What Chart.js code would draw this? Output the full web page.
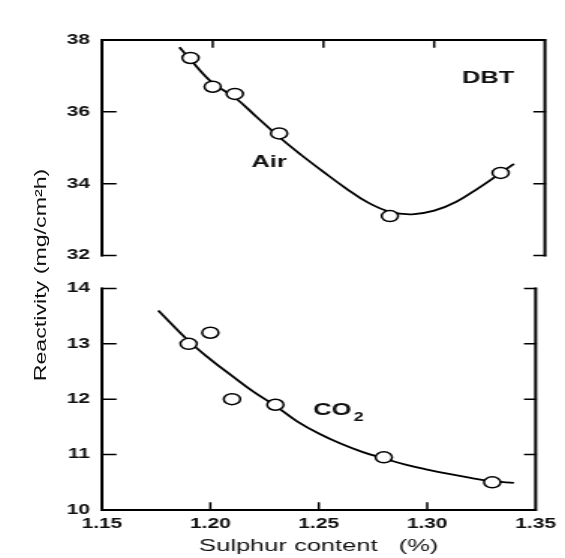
<!DOCTYPE html>
<html>
<head>
<meta charset="utf-8">
<script src="https://cdn.jsdelivr.net/npm/chart.js@4/dist/chart.umd.min.js"></script>
<style>
  html, body { margin: 0; padding: 0; background: #fff; }
  #page { position: relative; width: 565px; height: 558px; overflow: hidden; background: #fff; }
  .panel { position: absolute; left: 0; transform-origin: 0 0; transform: scaleX(1.4987); }
  #ytitle {
    position: absolute; width: 160px; left: -39px; top: 264px;
    text-align: center; font: 16px "Liberation Sans", Arial, sans-serif; color: #111;
    line-height: 22px; white-space: pre;
    transform: rotate(-90deg) scaleX(1.45); transform-origin: 50% 50%;
  }
</style>
</head>
<body>
<div id="page">
  <div class="panel" style="top:0"><canvas id="airChart" width="377" height="272"></canvas></div>
  <div class="panel" style="top:272px"><canvas id="co2Chart" width="377" height="286"></canvas></div>
  <div id="ytitle">Reactivity (mg/cm²h)</div>
</div>
<script>
// measured points, DBT in air
var sulphurAir = [1.19, 1.20, 1.21, 1.23, 1.28, 1.33];
var reactAir   = [37.5, 36.7, 36.5, 35.4, 33.1, 34.3];
// fitted curve, air
var curveAirX = [1.185, 1.19, 1.20, 1.21, 1.22, 1.23, 1.24, 1.25, 1.26, 1.27, 1.28, 1.29, 1.30, 1.31, 1.32, 1.33, 1.336];
var curveAirY = [37.8, 37.45, 36.8, 36.4, 35.85, 35.3, 34.8, 34.33, 33.88, 33.48, 33.22, 33.15, 33.25, 33.5, 33.88, 34.3, 34.55];

// measured points, DBT in CO2
var sulphurCo2 = [1.19, 1.20, 1.21, 1.23, 1.28, 1.33];
var reactCo2   = [13.0, 13.2, 12.0, 11.9, 10.95, 10.5];
// fitted curve, CO2
var curveCo2X = [1.176, 1.19, 1.20, 1.21, 1.22, 1.23, 1.24, 1.25, 1.26, 1.27, 1.28, 1.29, 1.30, 1.31, 1.32, 1.33, 1.34];
var curveCo2Y = [13.6, 13.05, 12.72, 12.42, 12.13, 11.88, 11.6, 11.38, 11.2, 11.05, 10.93, 10.82, 10.73, 10.65, 10.58, 10.52, 10.49];

// axis ticks
var xTicks      = [1.15, 1.20, 1.25, 1.30, 1.35];
var yTicksAir   = [32, 34, 36, 38];
var yTicksCo2   = [10, 11, 12, 13, 14];

var FONT = '"Liberation Sans", Arial, sans-serif';
var INK = '#111';

function pairs(xs, ys) {
  return xs.map(function(x, i) { return { x: x, y: ys[i] }; });
}

function fixedTicks(list) {
  return function(scale) {
    scale.ticks = list.map(function(v) { return { value: v }; });
  };
}

function datasets(px, py, cx, cy) {
  return [
    {
      data: pairs(px, py), showLine: false, order: 0,
      pointStyle: 'circle', pointRadius: 5.5, pointBorderWidth: 1.5,
      pointBorderColor: '#000', pointBackgroundColor: '#fff'
    },
    {
      data: pairs(cx, cy), showLine: true, order: 1,
      borderColor: '#000', borderWidth: 1.8, pointRadius: 0,
      tension: 0.4, fill: false
    }
  ];
}

// box lines and inward tick marks; sides = which edges get drawn
function framePlugin(sides, yList, labels) {
  return {
    id: 'frame',
    afterDraw: function(chart) {
      var ctx = chart.ctx, a = chart.chartArea;
      var xs = chart.scales.x, ys = chart.scales.y;
      ctx.save();
      ctx.strokeStyle = '#000';
      ctx.lineWidth = 2;
      ctx.lineCap = 'square';
      ctx.beginPath();
      ctx.moveTo(a.left, a.top); ctx.lineTo(a.left, a.bottom);
      ctx.moveTo(a.right, a.top); ctx.lineTo(a.right, a.bottom);
      if (sides === 'top') { ctx.moveTo(a.left, a.top); ctx.lineTo(a.right, a.top); }
      else { ctx.moveTo(a.left, a.bottom); ctx.lineTo(a.right, a.bottom); }
      ctx.stroke();

      ctx.lineWidth = 1.5;
      ctx.beginPath();
      yList.forEach(function(v) {
        var y = ys.getPixelForValue(v);
        ctx.moveTo(a.left, y); ctx.lineTo(a.left + 9, y);
        ctx.moveTo(a.right, y); ctx.lineTo(a.right - 7, y);
      });
      xTicks.slice(1, -1).forEach(function(v) {
        var x = xs.getPixelForValue(v);
        if (sides === 'top') { ctx.moveTo(x, a.top); ctx.lineTo(x, a.top + 7); }
        else { ctx.moveTo(x, a.bottom); ctx.lineTo(x, a.bottom - 7); }
      });
      ctx.stroke();

      ctx.fillStyle = INK;
      ctx.textBaseline = 'middle';
      ctx.textAlign = 'left';
      labels.forEach(function(l) {
        var x = xs.getPixelForValue(l.x), y = ys.getPixelForValue(l.y);
        ctx.font = 'bold 17px ' + FONT;
        ctx.fillText(l.text, x, y);
        if (l.sub) {
          var w = ctx.measureText(l.text).width;
          ctx.font = 'bold 12px ' + FONT;
          ctx.fillText(l.sub, x + w + 1.5, y + 7);
        }
      });
      ctx.restore();
    }
  };
}

function yScale(min, max, list) {
  return {
    min: min, max: max,
    afterBuildTicks: fixedTicks(list),
    grid: { display: false, drawTicks: false },
    border: { display: false },
    ticks: { color: INK, padding: 8, font: { family: FONT, size: 14, weight: 'bold' } },
    afterFit: function(s) { s.width = 68; }
  };
}

Chart.defaults.animation = false;

new Chart(document.getElementById('airChart'), {
  type: 'line',
  data: { datasets: datasets(sulphurAir, reactAir, curveAirX, curveAirY) },
  options: {
    responsive: false,
    layout: { padding: { top: 40, bottom: 8, left: 0, right: 13.4 } },
    plugins: { legend: { display: false }, tooltip: { enabled: false } },
    scales: {
      x: { type: 'linear', min: 1.15, max: 1.35, display: false },
      y: yScale(32, 38, yTicksAir)
    }
  },
  plugins: [framePlugin('top', yTicksAir, [
    { text: 'DBT', x: 1.3125, y: 36.93 },
    { text: 'Air', x: 1.2175, y: 34.6 }
  ])]
});

new Chart(document.getElementById('co2Chart'), {
  type: 'line',
  data: { datasets: datasets(sulphurCo2, reactCo2, curveCo2X, curveCo2Y) },
  options: {
    responsive: false,
    layout: { padding: { top: 13, bottom: 0, left: 0, right: 13.4 } },
    plugins: { legend: { display: false }, tooltip: { enabled: false } },
    scales: {
      x: {
        type: 'linear', min: 1.15, max: 1.35,
        afterBuildTicks: fixedTicks(xTicks),
        grid: { display: false, drawTicks: false },
        border: { display: false },
        ticks: {
          color: INK, padding: 6, maxRotation: 0,
          font: { family: FONT, size: 14, weight: 'bold' },
          callback: function(v) { return Number(v).toFixed(2); }
        },
        title: {
          display: true, text: 'Sulphur content   (%)', color: INK,
          padding: { top: 0, bottom: 1 },
          font: { family: FONT, size: 17 }
        },
        afterFit: function(s) { s.height = 48; }
      },
      y: yScale(10, 14, yTicksCo2)
    }
  },
  plugins: [framePlugin('bottom', yTicksCo2, [
    { text: 'CO', sub: '2', x: 1.2475, y: 11.8 }
  ])]
});
</script>
</body>
</html>
